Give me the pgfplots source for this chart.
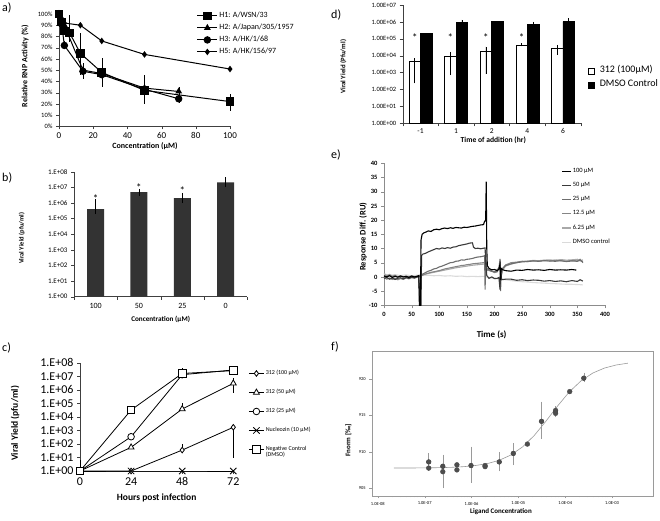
\documentclass[border=0pt]{standalone}
\usepackage{fontspec}
\setmainfont{Carlito}
\usepackage{pgfplots}
\pgfplotsset{compat=1.18}
\newcommand\fs[1]{\fontsize{#1}{#1}\selectfont}

\definecolor{barb}{HTML}{333333}
\definecolor{s50}{HTML}{3A3A3A}
\definecolor{s25}{HTML}{6E6E6E}
\definecolor{s12}{HTML}{858585}
\definecolor{s6}{HTML}{A8A8A8}
\definecolor{sdm}{HTML}{DADADA}
\definecolor{fdot}{HTML}{4D4D4D}
\definecolor{fgray}{HTML}{9A9A9A}

\pgfplotsset{
  excel/.style={scale only axis, anchor=south west, axis lines*=left,
    axis line style={-, draw=black!75}, tick style={draw=black!75},
    tick align=outside, major tick length=3pt,
    /pgf/number format/assume math mode=true, clip=false,
    legend cell align=left},
  eb/.style={error bars/y dir=both, error bars/y explicit, error bars/error mark=none},
}

\begin{document}
\begin{tikzpicture}
\path[use as bounding box] (0pt,0pt) rectangle (660pt,521pt);

% panel letters
\node[anchor=north west, inner sep=0pt, font=\fs{12}] at (2pt,518pt) {a)};
\node[anchor=north west, inner sep=0pt, font=\fs{12}] at (2pt,348pt) {b)};
\node[anchor=north west, inner sep=0pt, font=\fs{12}] at (2pt,178pt) {c)};
\node[anchor=north west, inner sep=0pt, font=\fs{12}] at (331pt,511pt) {d)};
\node[anchor=north west, inner sep=0pt, font=\fs{12}] at (331pt,371pt) {e)};
\node[anchor=north west, inner sep=0pt, font=\fs{12}] at (331pt,179pt) {f)};

% ---------- a) RNP activity
\begin{axis}[excel, at={(59pt,394.7pt)}, width=171pt, height=112.3pt,
  xmin=0, xmax=100, ymin=0, ymax=100,
  xtick={0,20,...,100}, ytick={0,10,...,100},
  yticklabel={\pgfmathprintnumber{\tick}\%},
  x tick label style={font=\fs{9}}, y tick label style={font=\fs{6.5}},
  xlabel={Concentration (μM)}, ylabel={Relative RNP Activity (\%)},
  xlabel style={font=\fs{8}\bfseries, at={(axis description cs:0.503,-0.175)}, anchor=center},
  ylabel style={font=\fs{8}\bfseries, at={(axis description cs:-0.199,0.537)}, anchor=center},
  legend style={draw=none, fill=none, inner sep=0pt, column sep=1.5pt, row sep=0pt,
    at={(axis description cs:0.805,1.038)}, anchor=north west, font=\fs{8},
    nodes={inner sep=0pt, text height=7.3pt, text depth=4.7pt}},
  legend image code/.code={\draw[mark repeat=2,mark phase=2,#1] plot coordinates {(0pt,0pt) (10pt,0pt) (20pt,0pt)};},
]
\addplot[black, line width=1pt, mark=square*, mark size=3.8pt, eb] coordinates {
  (0,100) (1.56,93) (3.13,85) (6.25,83) += (0,16) -= (0,8)
  (12.5,65) += (0,18) -= (0,19) (25,48) += (0,13) -= (0,13)
  (50,32) += (0,14) -= (0,12) (100,22) += (0,7) -= (0,8)};
\addlegendentry{H1: A/WSN/33}
\addplot[black, line width=1pt, mark=triangle*, mark size=3pt, eb] coordinates {
  (0,100) (1.56,95) (3.13,90) (14,50) += (0,6) -= (0,8)
  (25,47) (50,34) (70,31) += (0,4) -= (0,10)};
\addlegendentry{H2: A/Japan/305/1957}
\addplot[black, line width=1pt, mark=*, mark size=3.2pt, eb] coordinates {
  (0,100) (1.56,91) (3.13,72) += (0,4) -= (0,3) (14,49)
  (25,46) (50,33) (70,24.5)};
\addlegendentry{H3: A/HK/1/68}
\addplot[black, line width=1pt, mark=diamond*, mark size=2.5pt, eb] coordinates {
  (0,100) (1.56,96) (3.13,92) (12.5,90) (25,76) (50,64) (100,51)};
\addlegendentry{H5: A/HK/156/97}
\end{axis}

% ---------- b) viral yield bars
\begin{axis}[excel, at={(74pt,224.3pt)}, width=173.3pt, height=125pt,
  ymode=log, log origin=infty, ymin=1, ymax=1e8, yminorticks=false,
  xmin=-0.5, xmax=3.5, ybar, bar width=17pt,
  xtick={0,1,2,3}, xticklabels={100,50,25,0},
  major x tick style={draw=none},
  minor xtick={-0.5,0.5,1.5,2.5,3.5}, minor tick length=3pt,
  ytick={1,10,100,1000,1e4,1e5,1e6,1e7,1e8},
  yticklabels={1.E+00,1.E+01,1.E+02,1.E+03,1.E+04,1.E+05,1.E+06,1.E+07,1.E+08},
  x tick label style={font=\fs{8}}, y tick label style={font=\fs{7}},
  xlabel={Concentration (μM)}, ylabel={Viral Yield (pfu/ml)},
  xlabel style={font=\fs{7.2}\bfseries, at={(axis description cs:0.5,-0.181)}, anchor=center},
  ylabel style={font=\fs{6.5}\bfseries, at={(axis description cs:-0.302,0.467)}, anchor=center},
]
\addplot[fill=barb, draw=none, bar shift=0pt,
  error bars/y dir=both, error bars/y explicit,
  error bars/error bar style={black, line width=0.7pt},
  error bars/error mark options={black, mark size=3pt, line width=0.7pt}] coordinates {
  (0,4e5) += (0,7e5) -= (0,1e5)
  (1,4.9e6) += (0,3e5) -= (0,3e5)
  (2,2e6) += (0,8e5) -= (0,5e5)
  (3,2.1e7) += (0,7e6) -= (0,5e6)};
\addplot[draw=none, fill=none, bar shift=0pt, nodes near coords={*},
  every node near coord/.append style={font=\fs{11}, anchor=center, yshift=-2pt}] coordinates {
  (0,2.6e6) (1,1.26e7) (2,8.9e6)};
\end{axis}

% ---------- c) growth curves
\begin{axis}[excel, at={(80pt,50pt)}, width=153.3pt, height=108.3pt,
  ymode=log, ymin=1, ymax=1e8, yminorticks=false,
  xmin=0, xmax=72, xtick={0,24,48,72},
  ytick={1,10,100,1000,1e4,1e5,1e6,1e7,1e8},
  yticklabels={1.E+00,1.E+01,1.E+02,1.E+03,1.E+04,1.E+05,1.E+06,1.E+07,1.E+08},
  tick label style={font=\fs{12}},
  xlabel={Hours post infection}, ylabel={Viral Yield (pfu/ml)},
  xlabel style={font=\fs{9.5}\bfseries, at={(axis description cs:0.5,-0.252)}, anchor=center},
  ylabel style={font=\fs{9.5}\bfseries, at={(axis description cs:-0.424,0.44)}, anchor=center},
  legend style={draw=none, fill=none, inner sep=0pt, column sep=1.5pt, row sep=0pt,
    at={(axis description cs:1.098,0.99)}, anchor=north west, font=\fs{6},
    nodes={inner sep=0pt, text height=10.5pt, text depth=8.5pt}},
  legend image code/.code={\draw[mark repeat=2,mark phase=2,#1] plot coordinates {(0pt,0pt) (7.5pt,0pt) (15pt,0pt)};},
]
\addplot[black, line width=0.8pt, mark=diamond*, mark size=2.8pt, mark options={fill=white}, eb] coordinates {
  (0,1) (24,1) (48,35) += (0,65) -= (0,0) (72,1700) -= (0,1691) += (0,0)};
\addlegendentry{312 (100 μM)}
\addplot[black, line width=0.8pt, mark=triangle*, mark size=3.4pt, mark options={fill=white}, eb] coordinates {
  (0,1) (24,56) (48,3.8e4) += (0,6.2e4) -= (0,0) (72,3e6) += (0,4e6) -= (0,2.45e6)};
\addlegendentry{312 (50 μM)}
\addplot[black, line width=0.8pt, mark=*, mark size=3.3pt, mark options={fill=white}] coordinates {
  (0,1) (24,340) (48,1.3e7) (72,2.9e7)};
\addlegendentry{312 (25 μM)}
\addplot[black, line width=0.8pt, mark=x, mark size=4.5pt] coordinates {
  (0,1) (24,1) (48,1) (72,1)};
\addlegendentry{Nucleozin (10 μM)}
\addplot[black, line width=0.8pt, mark=square*, mark size=3.8pt, mark options={fill=white}, eb] coordinates {
  (0,1) += (0,5.5) -= (0,0) (24,3.2e4) (48,1.6e7) += (0,2.3e7) -= (0,0) (72,2.6e7) += (0,1e7) -= (0,0)};
\addlegendentry{\begin{tabular}[t]{@{}l@{}}Negative Control\\(DMSO)\end{tabular}}
\end{axis}

% ---------- d) time of addition
\begin{axis}[excel, at={(402.7pt,397.7pt)}, width=178pt, height=118.3pt,
  ymode=log, log origin=infty, ymin=1, ymax=1e7, yminorticks=false,
  xmin=-0.5, xmax=4.5, ybar, bar width=11.5pt,
  xtick={0,...,4}, xticklabels={-1,1,2,4,6},
  major x tick style={draw=none},
  minor xtick={-0.5,0.5,1.5,2.5,3.5,4.5}, minor tick length=3pt,
  ytick={1,10,100,1000,1e4,1e5,1e6,1e7},
  yticklabels={1.00E+00,1.00E+01,1.00E+02,1.00E+03,1.00E+04,1.00E+05,1.00E+06,1.00E+07},
  x tick label style={font=\fs{7.5}, yshift=1pt}, y tick label style={font=\fs{6.5}},
  xlabel={Time of addition (hr)}, ylabel={Viral Yield (Pfu/ml)},
  xlabel style={font=\fs{7.6}\bfseries, at={(axis description cs:0.509,-0.14)}, anchor=center},
  ylabel style={font=\fs{6.8}\bfseries, at={(axis description cs:-0.334,0.478)}, anchor=center},
  legend style={draw=none, fill=none, inner sep=0pt, column sep=5pt, row sep=0pt,
    at={(axis description cs:1.041,0.501)}, anchor=north west, font=\fs{10},
    nodes={inner sep=0pt, text height=8.6pt, text depth=5.4pt}},
  legend image code/.code={\draw[#1,/tikz/.cd] (0pt,-3pt) rectangle (6pt,3pt);},
]
\addplot[fill=white, draw=black, line width=0.6pt, bar shift=-5.75pt, eb,
  error bars/error bar style={black, line width=0.7pt}] coordinates {
  (0,4.5e3) += (0,2.5e3) -= (0,4.27e3)
  (1,9.6e3) += (0,7.4e3) -= (0,8.9e3)
  (2,1.9e4) += (0,1.5e4) -= (0,1.82e4)
  (3,4.1e4) += (0,1.3e4) -= (0,6e3)
  (4,2.7e4) += (0,1.6e4) -= (0,1.6e4)};
\addlegendentry{312 (100μM)}
\addplot[fill=black, draw=black, line width=0.6pt, bar shift=5.75pt, eb,
  error bars/error bar style={black, line width=0.7pt}] coordinates {
  (0,2.1e5) (1,9e5) += (0,4e5) -= (0,0) (2,1.04e6) += (0,6e4) -= (0,0)
  (3,7.2e5) += (0,2.8e5) -= (0,0) (4,1.05e6) += (0,5.5e5) -= (0,0)};
\addlegendentry{DMSO Control}
\addplot[draw=none, fill=none, bar shift=-5.75pt, nodes near coords={*}, forget plot,
  every node near coord/.append style={font=\fs{11}, anchor=center, yshift=-2pt}] coordinates {
  (0,1.5e5) (1,1.5e5) (2,1.5e5) (3,1.5e5)};
\end{axis}

% ---------- e) SPR sensorgrams
\begin{axis}[excel, at={(384pt,215.7pt)}, width=221pt, height=142pt,
  xmin=0, xmax=400, ymin=-10, ymax=40,
  xtick={0,50,...,400}, ytick={-10,-5,...,40},
  axis line style={-, draw=black!45}, tick style={draw=black!45},
  tick label style={font=\fs{6.5}\bfseries},
  xlabel={Time (s)}, ylabel={Response Diff. (RU)},
  xlabel style={font=\fs{9}\bfseries, at={(axis description cs:0.487,-0.209)}, anchor=center},
  ylabel style={font=\fs{8.5}\bfseries, at={(axis description cs:-0.094,0.483)}, anchor=center},
  reverse legend,
  legend style={draw=none, fill=none, inner sep=0pt, column sep=0.8pt, row sep=0pt,
    at={(axis description cs:0.804,0.996)}, anchor=north west, font=\fs{6.5},
    nodes={inner sep=0pt, text height=8.15pt, text depth=6.05pt}},
  legend image code/.code={\draw[#1] (0pt,0pt) -- (9pt,0pt);},
  every axis plot/.append style={line width=1.1pt, no marks},
]
\addplot[sdm] coordinates {
  (0,1.0) (10,0.6) (20,0.8) (30,0.5) (40,0.7) (50,0.4) (60,0.6) (70,0.5) (80,0.6)
  (90,0.4) (100,0.5) (110,0.3) (120,0.4) (130,0.2) (140,0.3) (150,0.1) (160,0.2)
  (170,0.1) (180,0.2) (185,0) (190,-0.3) (200,-0.5) (210,-0.8) (220,-1.0) (230,-1.3)
  (240,-1.5) (250,-1.7) (260,-1.8) (270,-2.0) (280,-2.1) (290,-2.2) (300,-2.3)
  (310,-2.4) (320,-2.5) (330,-2.6) (340,-2.6) (350,-2.7) (360,-2.8)};
\addlegendentry{DMSO control}
\addplot[s6] coordinates {
  (0,1.2) (5,0.5) (10,0.9) (15,0.3) (20,0.6) (25,0.1) (30,0.4) (35,0) (40,0.3) (45,0)
  (50,0.2) (55,0.1) (60,0.3) (65,0.4) (70,0.8) (80,1.2) (90,1.6) (100,2.0) (110,2.4)
  (120,2.8) (130,3.2) (140,3.5) (150,3.8) (160,4.1) (170,4.3) (180,4.5) (183,4.6)
  (185,2.5) (190,2.2) (200,1.8) (210,3.5) (212,0.5) (215,2.5) (220,3.8) (230,4.5)
  (240,5.0) (250,5.4) (260,5.6) (270,5.8) (280,5.7) (290,5.9) (300,6.0) (310,5.8)
  (320,6.1) (330,5.9) (340,6.0) (350,6.2) (355,5.6) (360,6.0)};
\addlegendentry{6.25 μM}
\addplot[s12] coordinates {
  (0,-0.2) (5,-0.8) (10,-0.4) (15,-0.9) (20,-0.5) (25,-1.0) (30,-0.6) (35,-0.9)
  (40,-0.4) (45,-0.7) (50,-0.3) (55,-0.5) (60,-0.1) (65,0.2) (70,0.6) (75,1.0)
  (80,1.3) (85,1.6) (90,1.8) (95,2.0) (100,2.2) (105,2.5) (110,2.8) (115,3.0)
  (120,3.2) (125,3.4) (130,3.6) (135,3.8) (140,4.0) (145,4.1) (150,4.3) (155,4.4)
  (160,4.6) (165,4.7) (170,4.8) (175,4.9) (180,5.0) (183,5.2) (185,2) (188,2.5)
  (195,2.0) (200,1.5) (205,1.8) (210,4) (212,0) (215,3) (220,4.2) (225,4.6) (230,5.0)
  (240,5.2) (250,5.5) (260,5.4) (270,5.7) (280,5.5) (290,5.8) (300,5.6) (310,5.9)
  (320,5.7) (330,5.5) (340,5.8) (350,5.6) (355,6.2) (360,5.0)};
\addlegendentry{12.5 μM}
\addplot[s25] coordinates {
  (0,0.5) (5,0.2) (10,0.6) (15,0.1) (20,0.4) (25,0) (30,0.3) (35,-0.1) (40,0.2) (45,0)
  (50,0.3) (55,0) (60,0.2) (65,0.3) (70,1.0) (75,1.5) (80,2.0) (85,2.3) (90,2.8)
  (95,3.0) (100,3.5) (105,3.8) (110,4.2) (115,4.6) (120,5.0) (125,5.1) (130,5.5)
  (135,5.6) (140,6.0) (145,5.9) (150,6.2) (155,6.3) (160,6.5) (165,6.8) (170,7.0)
  (175,7.1) (180,7.3) (182,7.5) (183,-4.5) (184,7) (186,3) (190,2.5) (195,2.0)
  (200,1.8) (205,2.0) (208,3) (210,6.3) (211,-5) (212,2) (215,3) (220,4.0) (225,4.3)
  (230,4.6) (240,5.0) (250,5.3) (260,5.4) (270,5.6) (280,5.5) (290,5.7) (300,5.6)
  (310,5.5) (320,5.7) (330,5.4) (340,5.6) (350,5.5) (355,5.9) (360,5.2)};
\addlegendentry{25 μM}
\addplot[s50] coordinates {
  (0,-0.5) (5,-0.2) (10,-0.8) (15,-0.4) (20,-0.9) (25,-0.5) (30,-0.3) (35,-0.7)
  (40,-0.2) (45,-0.5) (50,-0.1) (55,-0.3) (60,0) (63,0.2) (65,-10) (67,-10) (68,7.5)
  (70,8) (75,8.3) (80,8.8) (85,9.2) (90,9.6) (95,10) (100,9.8) (105,10.2) (110,10.0)
  (115,10.3) (120,10.1) (125,10.5) (130,10.6) (135,11.0) (140,11.2) (145,11.4)
  (150,11.6) (155,11.9) (160,12.0) (162,10.5) (165,10.0) (170,10.1) (175,9.9)
  (180,10.1) (183,10.2) (184,5) (186,0.5) (190,-0.5) (195,0) (200,-0.6) (205,-0.5)
  (208,-0.2) (210,-4.5) (211,2) (213,-1) (220,-0.8) (230,-0.8) (240,-1.2) (250,-1.0)
  (260,-1.3) (270,-1.1) (280,-1.2) (290,-1.5) (300,-1.3) (310,-1.6) (320,-1.4)
  (330,-1.7) (340,-1.3) (350,-1.6) (355,-1.0) (360,-1.5)};
\addlegendentry{50 μM}
\addplot[black] coordinates {
  (0,0.3) (5,0.0) (10,0.4) (15,-0.2) (20,0.2) (25,-0.1) (30,0.3) (35,0) (40,0.2)
  (45,-0.2) (50,0.3) (55,0) (60,0.2) (63,0.5) (64,-10) (66,-10) (67,13) (69,15)
  (72,15.5) (76,15.8) (80,16.2) (85,16.0) (90,16.6) (95,16.8) (100,16.6) (105,17.0)
  (110,17.2) (115,17.0) (120,17.3) (125,17.1) (130,17.4) (135,17.3) (140,17.2)
  (145,17.5) (150,17.4) (155,17.6) (160,17.8) (165,17.9) (170,18.1) (175,18.3)
  (180,18.4) (182,19.5) (184,20) (185,33.5) (186,10) (187,4) (190,3) (195,2.5)
  (200,2.6) (205,2.2) (208,2.8) (210,4.5) (211,-1) (212,3) (215,2.5) (220,2.2)
  (230,2.0) (240,2.4) (250,2.3) (260,2.6) (270,2.4) (280,2.5) (290,2.3) (300,2.6)
  (310,2.4) (320,2.5) (330,2.4) (340,2.6) (348,2.4)};
\addlegendentry{100 μM}
\end{axis}

% ---------- f) MST binding curve
\begin{axis}[scale only axis, anchor=south west, at={(371.7pt,25pt)}, width=281pt, height=145pt,
  xmode=log, xmin=7.4e-9, xmax=7.4e-3, ymin=903.9, ymax=923.9,
  axis line style={fgray}, tick style={fgray}, tick align=outside,
  xtick pos=left, ytick pos=left, major tick length=2.5pt, minor tick length=1.5pt,
  xtick={1e-8,1e-7,1e-6,1e-5,1e-4,1e-3},
  xticklabels={1.0E-08,1.0E-07,1.0E-06,1.0E-05,1.0E-04,1.0E-03},
  ytick={905,910,915,920},
  /pgf/number format/assume math mode=true,
  tick label style={font=\fs{4.5}},
  xlabel={Ligand Concentration}, ylabel={Fnorm [‰]},
  xlabel style={font=\fs{7}\bfseries, at={(axis description cs:0.46,-0.11)}, anchor=center},
  ylabel style={font=\fs{7}\bfseries, at={(axis description cs:-0.083,0.386)}, anchor=center},
]
\addplot[fgray, line width=0.6pt, no marks] coordinates {
  (2.19e-8,907.76) (3.89e-8,907.76) (6.92e-8,907.77) (1.23e-7,907.79) (2.19e-7,907.81)
  (3.89e-7,907.86) (6.92e-7,907.95) (1.23e-6,908.11) (2.19e-6,908.37) (3.89e-6,908.82)
  (6.92e-6,909.55) (1.23e-5,910.67) (2.19e-5,912.25) (3.89e-5,914.22) (6.92e-5,916.33)
  (1.23e-4,918.27) (2.19e-4,919.79) (3.89e-4,920.86) (6.92e-4,921.55) (1.23e-3,921.97)
  (2.19e-3,922.22)};
\addplot[only marks, mark=none, error bars/y dir=both, error bars/y explicit,
  error bars/error bar style={fgray, line width=0.5pt},
  error bars/error mark options={fgray, mark size=1.5pt, line width=0.5pt}] coordinates {
  (1.22e-7,908.6) +- (0,1.0)
  (2.44e-7,908.0) += (0,1.4) -= (0,2.8)
  (9.77e-7,908.1) += (0,2.4) -= (0,2.2)
  (3.91e-6,908.6) += (0,1.1) -= (0,1.1)
  (7.81e-6,909.77) += (0,1.23) -= (0,1.42)
  (3.13e-5,914.2) += (0,2.5) -= (0,2.2)
  (6.25e-5,915.5) += (0,0.6) -= (0,0.5)
  (2.5e-4,920.15) += (0,0.55) -= (0,0.35)};
\addplot[only marks, mark=*, mark size=2.4pt, fdot] coordinates {
  (1.22e-7,908.6) (1.22e-7,907.75) (2.44e-7,908.0) (2.44e-7,907.25)
  (4.88e-7,908.2) (4.88e-7,907.5) (9.77e-7,908.1) (1.95e-6,908.1) (1.95e-6,907.95)
  (3.91e-6,908.6) (7.81e-6,909.77) (1.56e-5,911.06) (3.13e-5,914.2)
  (6.25e-5,915.7) (6.25e-5,915.3) (1.25e-4,918.3) (2.5e-4,920.15)};
\end{axis}
\end{tikzpicture}
\end{document}
